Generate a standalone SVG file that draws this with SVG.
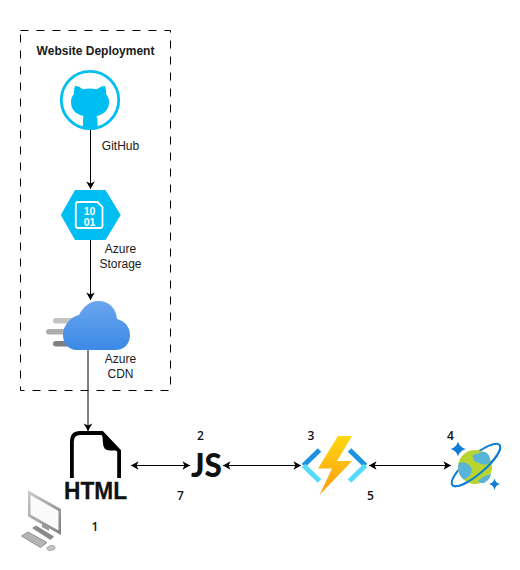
<svg xmlns="http://www.w3.org/2000/svg" width="520" height="570" viewBox="0 0 520 570">
<style>
.t{font-family:"Liberation Sans",Arial,sans-serif;font-size:12px;fill:#1a1a1a;text-anchor:middle}
.n{font-family:"Open Sans","Noto Sans",sans-serif;font-size:12px;font-weight:600;fill:#111;text-anchor:middle}
.c{fill:none;stroke:#000;stroke-width:1}
.d{font-family:"Liberation Sans",sans-serif;font-size:10.500px;font-weight:700;fill:#fff;text-anchor:middle}
</style>
<defs>
<marker id="a" markerUnits="userSpaceOnUse" markerWidth="9" markerHeight="10" refX="8" refY="5" orient="auto-start-reverse"><path d="M0.5 0.7L8 5L0.5 9.3L2.400 5Z" fill="#000"/></marker>
<linearGradient id="cl" x1="0" y1="0" x2="0" y2="1"><stop offset="0" stop-color="#6ba5ee"/><stop offset="1" stop-color="#3a8ae6"/></linearGradient>
<linearGradient id="bolt" x1="0" y1="0" x2="0" y2="1"><stop offset="0" stop-color="#fed80c"/><stop offset="1" stop-color="#fd9b17"/></linearGradient>
<linearGradient id="mon" x1="0" y1="0" x2="1" y2="1"><stop offset="0" stop-color="#c9c9c9"/><stop offset="1" stop-color="#808080"/></linearGradient>
</defs>
<g id="deployment-box"><rect x="20.5" y="30.5" width="150" height="360" fill="none" stroke="#000" stroke-dasharray="8 8"/><text class="t" x="95.5" y="55" style="font-weight:700">Website Deployment</text></g>
<g id="connectors">
<path class="c" d="M90.500 130V189" marker-end="url(#a)"/>
<path class="c" d="M90.500 240V300" marker-end="url(#a)"/>
<path class="c" d="M88 350V431" marker-end="url(#a)"/>
<path class="c" d="M131 465.500H190" marker-start="url(#a)" marker-end="url(#a)"/>
<path class="c" d="M223 465.500H301" marker-start="url(#a)" marker-end="url(#a)"/>
<path class="c" d="M369 465.500H451" marker-start="url(#a)" marker-end="url(#a)"/>
</g>
<g id="github">
<circle cx="90" cy="100" r="28.700" fill="#fff" stroke="#00bef2" stroke-width="2.800"/>
<path fill="#00bef2" d="M75 85.700Q79 86 83 89.300Q90 87.500 97 89.300Q101 86 105 85.700Q106.500 90 106 94Q109 97 109 102Q109 113 96.500 116Q97.500 118 97.500 122V129Q93 130 90 130Q87 130 83 129V122Q83 118 83.500 116Q71 113 71 102Q71 97 74 94Q73.500 90 75 85.700Z"/>
</g>
<text class="t" x="120.500" y="150">GitHub</text>
<g id="storage">
<path fill="#00bef2" d="M75 190H105.500L120.700 215L105.500 240H75L60.800 215Z"/>
<path fill="none" stroke="#fff" stroke-width="1.800" d="M78 202H97.500L102.500 207V225.500Q102.500 228 100 228H78Q75.800 228 75.800 225.500V204.500Q75.800 202 78 202Z"/>
<text class="d"><tspan x="89.500" y="214.500">10</tspan><tspan x="89.500" y="225.500">01</tspan></text>
</g>
<text class="t" x="120.500" y="253">Azure</text><text class="t" x="120.500" y="268">Storage</text>
<g id="cdn">
<rect x="53" y="318" width="25" height="5.500" rx="2.700" fill="#c3c3c3"/>
<rect x="46" y="329" width="30" height="5.500" rx="2.700" fill="#adadad"/>
<rect x="53" y="341" width="25" height="5.500" rx="2.700" fill="#808080"/>
<path fill="url(#cl)" d="M77 350C68 350 63 343 63 335C63 326 70 317 79 315C83 307 90 301 98 301C109 301 116 308 117 319C125 321 130 327 130 335C130 344 124 350 115 350Z"/>
</g>
<text class="t" x="120.500" y="363">Azure</text><text class="t" x="120.500" y="378">CDN</text>
<g id="html">
<path fill="none" stroke="#000" stroke-width="3.800" d="M71.900 478V442Q71.900 433 80 433H102L119.100 451V478"/>
<path fill="#000" d="M102 431L121 450.500H110Q103 450.500 103 443Z"/>
<text x="95.500" y="499" text-anchor="middle" font-family="Liberation Sans,sans-serif" font-size="24.500" font-weight="700" fill="#111" stroke="#111" stroke-width="0.300" textLength="63" lengthAdjust="spacingAndGlyphs">HTML</text>
</g>
<g id="computer">
<path fill="#9a9a9a" d="M42 520L49 524V531L42 527Z"/>
<path fill="#8a8a8a" d="M32 528L36 525.500L54 536.500L50.500 540Z"/>
<path fill="url(#mon)" d="M28 490.500L61 509V535L28 516.500Z"/>
<path fill="#fafafa" d="M30.500 495L58.500 511V530.500L30.500 514.500Z"/>
<path fill="#b5b5b5" stroke="#7d7d7d" stroke-width="0.800" d="M21.500 536L28 532L47 542.500L40.500 547.500Z"/>
<ellipse cx="51" cy="548" rx="4.300" ry="2.500" fill="#c4c4c4" stroke="#8f8f8f" stroke-width="0.500" transform="rotate(-15 51 548)"/>
</g>
<text class="n" x="95" y="531">1</text>
<g id="js"><text x="206.500" y="477" text-anchor="middle" font-family="Lato,sans-serif" font-size="33" font-weight="900" fill="#111" textLength="31" lengthAdjust="spacingAndGlyphs">JS</text></g>
<text class="n" x="200.500" y="440">2</text><text class="n" x="180.500" y="500">7</text>
<g id="functions">
<path fill="none" stroke="#1b93e0" stroke-width="5" d="M319.500 450L303.500 465.500"/>
<path fill="none" stroke="#56dcfb" stroke-width="5" d="M303.500 465.500L319.500 481"/>
<path fill="none" stroke="#1b93e0" stroke-width="5" d="M349.500 450L365.500 465.500"/>
<path fill="none" stroke="#56dcfb" stroke-width="5" d="M365.500 465.500L349.500 481"/>
<path fill="url(#bolt)" d="M338 436H352L337 461H352L319.500 495L332 468.500H318Z"/>
</g>
<text class="n" x="311" y="440">3</text><text class="n" x="370.500" y="500">5</text>
<g id="cosmos">
<ellipse cx="476" cy="465" rx="31" ry="9" fill="none" stroke="#0f7ed6" stroke-width="2" transform="rotate(-40.500 476 465)"/>
<circle cx="475" cy="467" r="17" fill="#b8d432"/>
<path fill="#59b4d9" d="M459 463Q465 461 469 465Q474 470 470 475Q466 480 463 479Q458 474 458 467ZM472.500 456Q475 453 478 454Q483 449 488 454Q491 458 490 463Q484 466 479 463Q473 462 472.500 456ZM478 481Q483 476 491 474Q490 480 484 483Q481 484 478 481Z"/>
<path fill="none" stroke="#0f7ed6" stroke-width="2" transform="rotate(-40.500 476 465)" d="M445 465A31 9 0 0 0 507 465"/>
<path fill="#0f7ed6" d="M458 441.500Q459.500 447.500 466 449Q459.500 450.500 458 456.500Q456.500 450.500 450.500 449Q456.500 447.500 458 441.500ZM494.500 478.500Q495.500 483 500 484Q495.500 485 494.500 490Q493.500 485 489 484Q493.500 483 494.500 478.500Z"/>
</g>
<text class="n" x="450.500" y="440">4</text>
</svg>
